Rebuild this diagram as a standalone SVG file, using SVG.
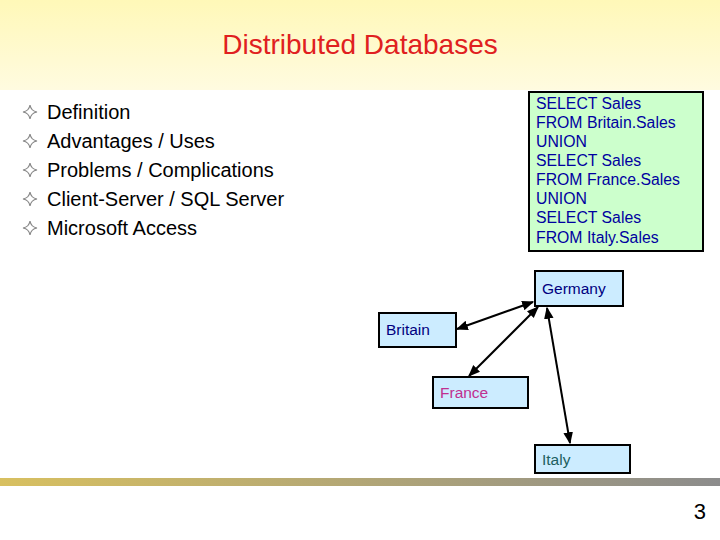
<svg xmlns="http://www.w3.org/2000/svg" width="720" height="540" viewBox="0 0 720 540">
<defs>
<linearGradient id="hdr" x1="0" y1="0" x2="0" y2="1"><stop offset="0" stop-color="#fff8b8"/><stop offset="1" stop-color="#fffbe0"/></linearGradient>
<linearGradient id="bar" x1="0" y1="0" x2="1" y2="0"><stop offset="0" stop-color="#d8c060"/><stop offset="1" stop-color="#8c8c8c"/></linearGradient>
<marker id="ah" viewBox="0 0 10 10" refX="9" refY="5" markerWidth="6" markerHeight="6" orient="auto-start-reverse"><path d="M0,1 L10,5 L0,9 Z" fill="#000"/></marker>
<style>
text{font-family:"Liberation Sans",Arial,sans-serif}
.b{font-size:20px;fill:#000}
.d{fill:#ccecff;stroke:#000;stroke-width:2}
.n{font-size:15.5px}
.c line{stroke:#000;stroke-width:2}
</style>
</defs>
<rect width="720" height="540" fill="#fff"/>
<rect width="720" height="90" fill="url(#hdr)"/>
<text x="360" y="54" text-anchor="middle" font-size="28" fill="#e02020">Distributed Databases</text>
<g id="bullets">
<g fill="none" stroke="#888" stroke-width="1.2">
<path d="M30,105 Q31,111 37,112 Q31,113 30,119 Q29,113 23,112 Q29,111 30,105Z"/>
<path d="M30,134 Q31,140 37,141 Q31,142 30,148 Q29,142 23,141 Q29,140 30,134Z"/>
<path d="M30,163 Q31,169 37,170 Q31,171 30,177 Q29,171 23,170 Q29,169 30,163Z"/>
<path d="M30,192 Q31,198 37,199 Q31,200 30,206 Q29,200 23,199 Q29,198 30,192Z"/>
<path d="M30,221 Q31,227 37,228 Q31,229 30,235 Q29,229 23,228 Q29,227 30,221Z"/>
</g>
<text class="b" x="47" y="119">Definition</text>
<text class="b" x="47" y="148">Advantages / Uses</text>
<text class="b" x="47" y="177">Problems / Complications</text>
<text class="b" x="47" y="206">Client-Server / SQL Server</text>
<text class="b" x="47" y="235">Microsoft Access</text>
</g>
<g id="sql">
<rect x="529" y="92" width="174" height="159" fill="#ccffcc" stroke="#000" stroke-width="2"/>
<g font-size="15.8" fill="#0000a0">
<text x="536" y="109">SELECT Sales</text>
<text x="536" y="128">FROM Britain.Sales</text>
<text x="536" y="147">UNION</text>
<text x="536" y="166">SELECT Sales</text>
<text x="536" y="185">FROM France.Sales</text>
<text x="536" y="204">UNION</text>
<text x="536" y="223">SELECT Sales</text>
<text x="536" y="243">FROM Italy.Sales</text>
</g>
</g>
<g class="c" id="connectors">
<line x1="457" y1="329" x2="533" y2="302" marker-start="url(#ah)" marker-end="url(#ah)"/>
<line x1="469" y1="376" x2="538" y2="307" marker-start="url(#ah)" marker-end="url(#ah)"/>
<line x1="547" y1="308" x2="570" y2="443" marker-start="url(#ah)" marker-end="url(#ah)"/>
</g>
<g id="germany"><rect class="d" x="535" y="271" width="88" height="35"/><text class="n" x="542" y="294" fill="#000080">Germany</text></g>
<g id="britain"><rect class="d" x="379" y="313" width="77" height="34"/><text class="n" x="386" y="335" fill="#000080">Britain</text></g>
<g id="france"><rect class="d" x="433" y="377" width="95" height="31"/><text class="n" x="440" y="398" fill="#c03090">France</text></g>
<g id="italy"><rect class="d" x="535" y="445" width="95" height="28"/><text class="n" x="542" y="465" fill="#206060">Italy</text></g>
<rect x="0" y="478" width="720" height="8" fill="url(#bar)"/>
<text x="706" y="519" text-anchor="end" font-size="22" fill="#000">3</text>
</svg>
